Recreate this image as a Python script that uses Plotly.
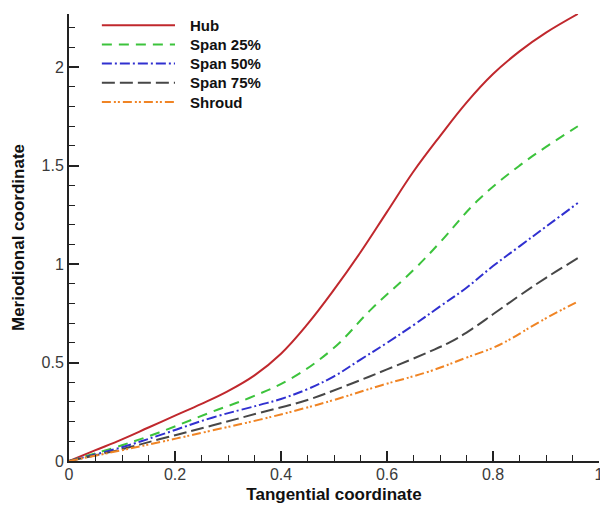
import plotly.graph_objects as go

# blade-to-blade coordinates
hub_t = [0, 0.05, 0.1, 0.15, 0.2, 0.25, 0.3, 0.35, 0.4, 0.45, 0.5, 0.55, 0.6, 0.65, 0.7, 0.75, 0.8, 0.85, 0.9, 0.96]
hub_m = [0, 0.055, 0.11, 0.17, 0.23, 0.29, 0.355, 0.435, 0.545, 0.695, 0.87, 1.06, 1.265, 1.47, 1.65, 1.82, 1.965, 2.08, 2.175, 2.27]

span25_t = [0, 0.1, 0.17, 0.27, 0.34, 0.42, 0.5, 0.57, 0.65, 0.7, 0.77, 0.85, 0.9, 0.96]
span25_m = [0, 0.08, 0.145, 0.25, 0.32, 0.42, 0.575, 0.77, 0.97, 1.11, 1.32, 1.50, 1.595, 1.70]

span50_t = [0, 0.1, 0.17, 0.27, 0.36, 0.4, 0.45, 0.5, 0.55, 0.6, 0.65, 0.7, 0.75, 0.8, 0.85, 0.9, 0.96]
span50_m = [0, 0.07, 0.13, 0.22, 0.285, 0.315, 0.365, 0.43, 0.515, 0.60, 0.69, 0.785, 0.88, 0.99, 1.09, 1.19, 1.31]

span75_t = [0, 0.1, 0.17, 0.27, 0.36, 0.45, 0.53, 0.6, 0.68, 0.72, 0.76, 0.8, 0.85, 0.9, 0.96]
span75_m = [0, 0.06, 0.11, 0.18, 0.245, 0.31, 0.39, 0.465, 0.555, 0.605, 0.67, 0.745, 0.84, 0.93, 1.03]

shroud_t = [0, 0.1, 0.17, 0.27, 0.36, 0.44, 0.5, 0.59, 0.68, 0.75, 0.8, 0.83, 0.89, 0.96]
shroud_m = [0, 0.055, 0.095, 0.155, 0.21, 0.265, 0.31, 0.385, 0.455, 0.525, 0.575, 0.615, 0.71, 0.81]

names = ["Hub", "Span 25%", "Span 50%", "Span 75%", "Shroud"]
colors = ["#c0282d", "#3cc33c", "#3030d0", "#474747", "#f08424"]
dashes = ["solid", "10px,7px", "10px,3px,2px,3px", "13px,5px", "9px,3px,2px,2px,2px,3px"]

series = [(hub_t, hub_m), (span25_t, span25_m), (span50_t, span50_m),
          (span75_t, span75_m), (shroud_t, shroud_m)]

FONT = "Liberation Sans, Arial, sans-serif"

fig = go.Figure()
for (t, m), name, col, dash in zip(series, names, colors, dashes):
    fig.add_trace(go.Scatter(x=t, y=m, name=name, mode="lines",
                             line=dict(color=col, width=2, dash=dash,
                                       shape="spline", smoothing=1.1)))

# hand made legend so the line samples can be long like the original
leg_top, leg_step = 0.975, 0.043
for i, (name, col, dash) in enumerate(zip(names, colors, dashes)):
    yy = leg_top - i * leg_step
    fig.add_shape(type="line", xref="paper", yref="paper",
                  x0=0.062, x1=0.2, y0=yy, y1=yy,
                  line=dict(color=col, width=2, dash=dash))
    fig.add_annotation(xref="paper", yref="paper", x=0.224, y=yy,
                       text="<b>%s</b>" % name, showarrow=False,
                       xanchor="left", yanchor="middle",
                       font=dict(family=FONT, size=15, color="#111"))

axis_common = dict(showgrid=False, zeroline=False, showline=True,
                   linecolor="#222", linewidth=2, ticks="inside",
                   ticklen=10, tickwidth=2, tickcolor="#222",
                   ticklabeloverflow="allow",
                   tickfont=dict(family=FONT, size=16, color="#3a3a3a"))

fig.update_xaxes(range=[0, 1], dtick=0.2, tickformat="~g",
                 ticklabelstandoff=-2,
                 minor=dict(dtick=0.05, ticks="inside", ticklen=6, tickcolor="#222", tickwidth=1),
                 title=dict(text="<b>Tangential coordinate</b>", standoff=6,
                            font=dict(family=FONT, size=17, color="#111")),
                 **axis_common)
fig.update_yaxes(range=[0, 2.27], dtick=0.5, tickformat="~g",
                 ticklabelstandoff=0,
                 minor=dict(dtick=0.1, ticks="inside", ticklen=6, tickcolor="#222", tickwidth=1),
                 title=dict(text="<b>Meriodional coordinate</b>", standoff=13,
                            font=dict(family=FONT, size=17, color="#111")),
                 **axis_common)

fig.update_layout(width=600, height=506, showlegend=False,
                  plot_bgcolor="white", paper_bgcolor="white",
                  margin=dict(l=69, r=1, t=14, b=45, autoexpand=False),
                  font=dict(family=FONT))

# drop the browser's default body margin so the chart sits at 0,0
fig.write_html("out.html", config={"displayModeBar": False},
               post_script="document.body.style.margin='0';")
